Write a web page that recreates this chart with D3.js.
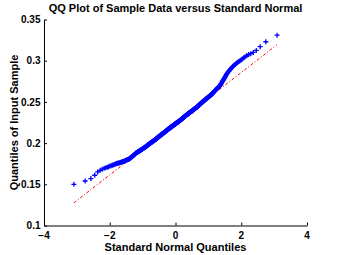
<!DOCTYPE html>
<html>
<head>
<meta charset="utf-8">
<script src="https://cdn.jsdelivr.net/npm/d3@7"></script>
<style>
  body { margin: 0; background: #fff; }
  svg { display: block; font-family: "Liberation Sans", Arial, sans-serif; }
  .tickLabel { font-size: 10px; font-weight: bold; fill: #000; }
  .axisTitle { font-size: 11px; font-weight: bold; fill: #000; }
</style>
</head>
<body>
<script>
//sorted sample values (500 points)
var sampleData = [
  0.150,0.154,0.157,0.161,0.165,0.167,0.1683,0.1694,0.1701,0.1707,
  0.1714,0.1721,0.1725,0.173,0.1735,0.1739,0.1744,0.1748,0.1751,0.1754,
  0.1757,0.1759,0.1762,0.1765,0.1767,0.177,0.1773,0.1775,0.1778,0.1781,
  0.1783,0.1786,0.1789,0.1792,0.1794,0.1797,0.18,0.1802,0.1805,0.1808,
  0.1811,0.1815,0.1819,0.1823,0.1827,0.1831,0.1835,0.1839,0.1843,0.1847,
  0.1851,0.1855,0.1859,0.1863,0.1868,0.1872,0.1876,0.188,0.1882,0.1885,
  0.1887,0.1889,0.1892,0.1894,0.1896,0.1898,0.1901,0.1903,0.1905,0.1908,
  0.191,0.1912,0.1914,0.1917,0.1919,0.1921,0.1923,0.1926,0.1928,0.193,
  0.1933,0.1935,0.1937,0.1939,0.1942,0.1944,0.1946,0.1948,0.1951,0.1953,
  0.1955,0.1957,0.196,0.1962,0.1964,0.1966,0.1969,0.1971,0.1973,0.1975,
  0.1978,0.198,0.1982,0.1984,0.1987,0.1989,0.1991,0.1993,0.1995,0.1997,
  0.1998,0.2,0.2002,0.2004,0.2006,0.2008,0.2009,0.2011,0.2013,0.2015,
  0.2017,0.2019,0.202,0.2022,0.2024,0.2026,0.2028,0.203,0.2032,0.2033,
  0.2035,0.2037,0.2039,0.2041,0.2043,0.2045,0.2047,0.2049,0.2051,0.2052,
  0.2054,0.2056,0.2058,0.206,0.2062,0.2064,0.2066,0.2068,0.207,0.2071,
  0.2073,0.2075,0.2077,0.2079,0.2081,0.2083,0.2085,0.2087,0.2088,0.209,
  0.2092,0.2093,0.2095,0.2097,0.2098,0.21,0.2102,0.2103,0.2105,0.2107,
  0.2108,0.211,0.2112,0.2113,0.2115,0.2117,0.2118,0.212,0.2122,0.2124,
  0.2125,0.2127,0.2129,0.213,0.2132,0.2134,0.2135,0.2137,0.2139,0.214,
  0.2142,0.2144,0.2145,0.2147,0.2149,0.215,0.2152,0.2154,0.2155,0.2157,
  0.2159,0.216,0.2162,0.2164,0.2165,0.2167,0.2169,0.2171,0.2172,0.2174,
  0.2175,0.2177,0.2178,0.218,0.2181,0.2183,0.2184,0.2186,0.2187,0.2189,
  0.219,0.2192,0.2193,0.2195,0.2196,0.2198,0.2199,0.2201,0.2202,0.2204,
  0.2205,0.2207,0.2208,0.221,0.2211,0.2213,0.2214,0.2216,0.2217,0.2219,
  0.222,0.2222,0.2223,0.2225,0.2226,0.2228,0.2229,0.2231,0.2232,0.2234,
  0.2236,0.2237,0.2239,0.224,0.2241,0.2243,0.2244,0.2246,0.2247,0.2249,
  0.225,0.2252,0.2253,0.2254,0.2256,0.2257,0.2259,0.226,0.2262,0.2263,
  0.2264,0.2266,0.2267,0.2269,0.227,0.2272,0.2273,0.2274,0.2276,0.2278,
  0.228,0.2281,0.2283,0.2285,0.2287,0.2288,0.229,0.2292,0.2294,0.2295,
  0.2297,0.2299,0.2301,0.2303,0.2304,0.2306,0.2308,0.231,0.2311,0.2313,
  0.2315,0.2317,0.2318,0.232,0.2322,0.2324,0.2326,0.2327,0.2329,0.2331,
  0.2333,0.2334,0.2336,0.2338,0.2339,0.2341,0.2343,0.2344,0.2346,0.2347,
  0.2349,0.2351,0.2352,0.2354,0.2356,0.2357,0.2359,0.2361,0.2362,0.2364,
  0.2365,0.2367,0.2369,0.237,0.2372,0.2374,0.2375,0.2377,0.2379,0.238,
  0.2382,0.2383,0.2385,0.2387,0.2388,0.239,0.2391,0.2393,0.2395,0.2397,
  0.2399,0.2401,0.2403,0.2405,0.2406,0.2408,0.241,0.2412,0.2414,0.2416,
  0.2418,0.242,0.2421,0.2423,0.2425,0.2427,0.2429,0.2431,0.2433,0.2435,
  0.2437,0.2438,0.244,0.2442,0.2444,0.2446,0.2449,0.2451,0.2453,0.2456,
  0.2458,0.2461,0.2463,0.2466,0.2468,0.2471,0.2473,0.2475,0.2478,0.248,
  0.2483,0.2485,0.2488,0.249,0.2493,0.2495,0.2497,0.25,0.2502,0.2505,
  0.2507,0.251,0.2512,0.2515,0.2517,0.2519,0.2522,0.2524,0.2526,0.2529,
  0.2532,0.2534,0.2537,0.254,0.2542,0.2545,0.2548,0.2551,0.2553,0.2556,
  0.2559,0.2561,0.2564,0.2567,0.257,0.2572,0.2575,0.2578,0.258,0.2583,
  0.2586,0.2588,0.2592,0.2596,0.26,0.2605,0.2609,0.2614,0.2618,0.2623,
  0.2627,0.2632,0.2636,0.2641,0.2645,0.2649,0.2654,0.2658,0.2663,0.2667,
  0.2672,0.2676,0.2681,0.2685,0.2689,0.2694,0.2702,0.2711,0.272,0.2729,
  0.2738,0.2748,0.2757,0.2766,0.2775,0.2785,0.2794,0.2806,0.2818,0.283,
  0.2842,0.2851,0.2861,0.287,0.288,0.2889,0.2899,0.2908,0.2918,0.2927,
  0.2937,0.2946,0.2955,0.2964,0.2973,0.2982,0.2991,0.3,0.3009,0.3022,
  0.3035,0.3048,0.3062,0.3075,0.3085,0.310,0.3125,0.317,0.323,0.331
];

//axis ticks and labels
var xTicks = [-4, -2, 0, 2, 4];
var xTickLabels = ["\u22124", "\u22122", "0", "2", "4"];
var yTicks = [0.1, 0.15, 0.2, 0.25, 0.3, 0.35];
var yTickLabels = ["0.1", "0.15", "0.2", "0.25", "0.3", "0.35"];

var titleText = "QQ Plot of Sample Data versus Standard Normal";
var xLabelText = "Standard Normal Quantiles";
var yLabelText = "Quantiles of Input Sample";

(function(){
  //frame
  var width = 339, height = 255;
  var padL = 44, padR = 307, padT = 19.5, padB = 225.5;

  var x = d3.scaleLinear().domain([-4, 4]).range([padL, padR]);
  var y = d3.scaleLinear().domain([0.1, 0.35]).range([padB, padT]);

  //inverse normal cdf (Acklam)
  function norminv(p){
    var a = [-3.969683028665376e+01, 2.209460984245205e+02, -2.759285104469687e+02, 1.383577518672690e+02, -3.066479806614716e+01, 2.506628277459239e+00];
    var b = [-5.447609879822406e+01, 1.615858368580409e+02, -1.556989798598866e+02, 6.680131188771972e+01, -1.328068155288572e+01];
    var c = [-7.784894002430293e-03, -3.223964580411365e-01, -2.400758277161838e+00, -2.549732539343734e+00, 4.374664141464968e+00, 2.938163982698783e+00];
    var d = [7.784695709041462e-03, 3.224671290700398e-01, 2.445134137142996e+00, 3.754408661907416e+00];
    var plow = 0.02425, q, r;
    if (p < plow){
      q = Math.sqrt(-2 * Math.log(p));
      return (((((c[0]*q+c[1])*q+c[2])*q+c[3])*q+c[4])*q+c[5]) / ((((d[0]*q+d[1])*q+d[2])*q+d[3])*q+1);
    } else if (p <= 1 - plow){
      q = p - 0.5; r = q * q;
      return (((((a[0]*r+a[1])*r+a[2])*r+a[3])*r+a[4])*r+a[5])*q / (((((b[0]*r+b[1])*r+b[2])*r+b[3])*r+b[4])*r+1);
    } else {
      q = Math.sqrt(-2 * Math.log(1 - p));
      return -(((((c[0]*q+c[1])*q+c[2])*q+c[3])*q+c[4])*q+c[5]) / ((((d[0]*q+d[1])*q+d[2])*q+d[3])*q+1);
    }
  }

  var n = sampleData.length;
  var points = sampleData.map(function(v, i){
    return { z: norminv((i + 0.5) / n), v: v };
  });

  //reference line through the quartiles
  var q1 = d3.quantile(sampleData, 0.25),
      q3 = d3.quantile(sampleData, 0.75),
      z1 = norminv(0.25), z3 = norminv(0.75);
  var slope = (q3 - q1) / (z3 - z1),
      icpt = q1 - slope * z1;
  var zMin = points[0].z, zMax = points[n - 1].z;

  var svg = d3.select("body").append("svg")
    .attr("width", width)
    .attr("height", height);

  //red dash-dot line
  svg.append("line")
    .attr("x1", x(zMin)).attr("y1", y(icpt + slope * zMin))
    .attr("x2", x(zMax)).attr("y2", y(icpt + slope * zMax))
    .attr("stroke", "#ff0000")
    .attr("stroke-width", 1)
    .attr("stroke-dasharray", "3,2,1,2");

  //blue + markers
  svg.append("g").selectAll("path")
    .data(points)
    .enter()
    .append("path")
    .attr("transform", function(d){ return "translate(" + x(d.z) + "," + y(d.v) + ")"; })
    .attr("d", "M-2.5,0H2.5M0,-2.5V2.5")
    .attr("stroke", "#0000ff")
    .attr("stroke-width", 1.3)
    .attr("fill", "none");

  //axes (box off, ticks inside)
  svg.append("g").attr("transform", "translate(0," + padB + ")")
    .call(d3.axisBottom(x).tickValues(xTicks).tickSizeInner(-3).tickSizeOuter(0).tickFormat(""));
  svg.append("g").attr("transform", "translate(" + padL + ",0)")
    .call(d3.axisLeft(y).tickValues(yTicks).tickSizeInner(-3).tickSizeOuter(0).tickFormat(""));
  svg.selectAll(".domain, .tick line").attr("stroke", "#000").attr("stroke-width", 1);

  //tick labels
  svg.append("g").selectAll("text")
    .data(xTicks)
    .enter()
    .append("text")
    .attr("class", "tickLabel")
    .attr("x", function(d){ return x(d); })
    .attr("y", 238.5)
    .attr("text-anchor", "middle")
    .text(function(d, i){ return xTickLabels[i]; });

  svg.append("g").selectAll("text")
    .data(yTicks)
    .enter()
    .append("text")
    .attr("class", "tickLabel")
    .attr("x", 40.5)
    .attr("y", function(d){ return y(d) + 3.6; })
    .attr("text-anchor", "end")
    .text(function(d, i){ return yTickLabels[i]; });

  //titles
  svg.append("text")
    .attr("class", "axisTitle")
    .attr("x", (padL + padR) / 2)
    .attr("y", 11.5)
    .attr("text-anchor", "middle")
    .text(titleText);

  svg.append("text")
    .attr("class", "axisTitle")
    .attr("x", (padL + padR) / 2)
    .attr("y", 251)
    .attr("text-anchor", "middle")
    .text(xLabelText);

  svg.append("text")
    .attr("class", "axisTitle")
    .attr("transform", "translate(17.5," + (padT + padB) / 2 + ") rotate(-90)")
    .attr("text-anchor", "middle")
    .text(yLabelText);
})();
</script>
</body>
</html>
